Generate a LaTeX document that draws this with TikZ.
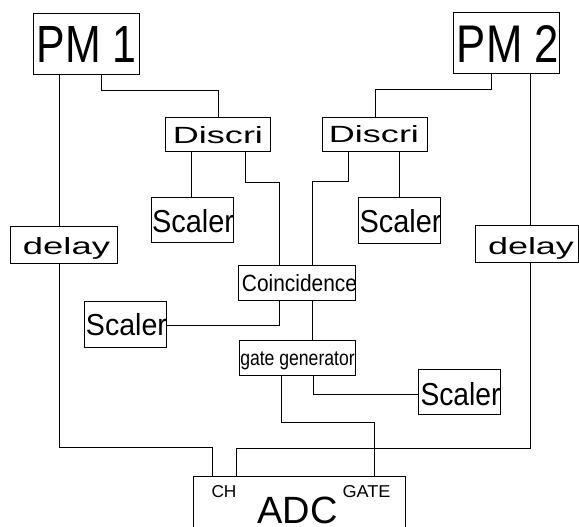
\documentclass[tikz,border=0pt]{standalone}
\usepackage{fontspec}
\setmainfont{Liberation Sans}
\usepackage{graphicx}
\begin{document}
\begin{tikzpicture}[x=1pt,y=-1pt,
  blk/.style={draw, rectangle, inner sep=0pt, line width=0.9pt},
  lbl/.style={inner sep=0pt, anchor=base},
  wire/.style={line width=0.8pt}]
\useasboundingbox (0,0) rectangle (579,527);
% boxes
\node[blk, minimum width=106pt, minimum height=61pt] (pm1) at (86,43.5) {};
\node[blk, minimum width=106pt, minimum height=61pt] (pm2) at (506,42.5) {};
\node[blk, minimum width=105pt, minimum height=34pt] (d1) at (217.5,134) {};
\node[blk, minimum width=105pt, minimum height=34pt] (d2) at (374.5,134) {};
\node[blk, minimum width=82pt, minimum height=45pt] (s1) at (192,219.5) {};
\node[blk, minimum width=82pt, minimum height=46pt] (s2) at (399,220) {};
\node[blk, minimum width=107pt, minimum height=37pt] (dl1) at (63.5,244.5) {};
\node[blk, minimum width=103pt, minimum height=37pt] (dl2) at (526.5,243.5) {};
\node[blk, minimum width=117pt, minimum height=35pt] (coin) at (296.5,282.5) {};
\node[blk, minimum width=82pt, minimum height=46pt] (s3) at (125,324) {};
\node[blk, minimum width=116pt, minimum height=35pt] (gg) at (297,357.5) {};
\node[blk, minimum width=82pt, minimum height=45pt] (s4) at (459,391.5) {};
\node[blk, minimum width=212pt, minimum height=84pt] (adc) at (299,518) {};
% labels
\node[lbl] (pm1t) at (86.5,63) {\resizebox{100pt}{36pt}{PM 1}};
\node[lbl] (pm2t) at (508,63) {\resizebox{102pt}{37pt}{PM 2}};
\node[lbl] (d1t) at (218,143) {\resizebox{90pt}{17pt}{Discri}};
\node[lbl] (d2t) at (374,142.5) {\resizebox{90pt}{17pt}{Discri}};
\node[lbl] (s1t) at (193,232) {\resizebox{82pt}{23pt}{Scaler}};
\node[lbl] (s2t) at (400.5,232) {\resizebox{82pt}{23pt}{Scaler}};
\node[lbl] (s3t) at (126.5,335) {\resizebox{81pt}{22pt}{Scaler}};
\node[lbl] (s4t) at (460.5,405) {\resizebox{80pt}{23pt}{Scaler}};
\node[lbl] (dl1t) at (66.5,254) {\resizebox{87pt}{17pt}{delay}};
\node[lbl] (dl2t) at (531,254) {\resizebox{86pt}{17pt}{delay}};
\node[lbl] (coint) at (299.5,291) {\resizebox{115pt}{17pt}{Coincidence}};
\node[lbl] (ggt) at (297.5,365) {\scalebox{0.83}[1]{\fontsize{21.2pt}{22pt}\selectfont gate generator}};
\node[lbl] (cht) at (224,497) {\resizebox{25pt}{12pt}{CH}};
\node[lbl] (gatet) at (366.5,497) {\resizebox{48pt}{12pt}{GATE}};
\node[lbl] (adct) at (297.5,523.5) {\fontsize{38pt}{38pt}\selectfont ADC};
% wires
\draw[wire] ([xshift=-27pt]pm1.south) -- ([xshift=-27pt]pm1.south |- dl1.north);
\draw[wire] ([xshift=15pt]pm1.south) -- ++(0,16) -| ([xshift=0.5pt]d1.north);
\draw[wire] ([xshift=-15pt]pm2.south) -- ++(0,16) -| ([xshift=0.5pt]d2.north);
\draw[wire] ([xshift=24pt]pm2.south) -- ([xshift=24pt]pm2.south |- dl2.north);
\draw[wire] ([xshift=-26.5pt]d1.south) -- ([xshift=-26.5pt]d1.south |- s1.north);
\draw[wire] ([xshift=27.5pt]d1.south) -- ++(0,31) -| ([xshift=-17.5pt]coin.north);
\draw[wire] ([xshift=-26.5pt]d2.south) -- ++(0,30) -| ([xshift=15.5pt]coin.north);
\draw[wire] ([xshift=24.5pt]d2.south) -- ([xshift=24.5pt]d2.south |- s2.north);
\draw[wire] ([xshift=-17.5pt]coin.south) |- ([yshift=-1pt]s3.east);
\draw[wire] ([xshift=15.5pt]coin.south) -- ([xshift=15.5pt]coin.south |- gg.north);
\draw[wire] ([xshift=16pt]gg.south) |- ([yshift=-2.5pt]s4.west);
\draw[wire] ([xshift=-16pt]gg.south) -- ++(0,47) -| ([xshift=75pt]adc.north);
\draw[wire] ([xshift=-4.5pt]dl1.south) -- ++(0,184) -| ([xshift=-87pt]adc.north);
\draw[wire] ([xshift=3.5pt]dl2.south) -- ++(0,186) -| ([xshift=-63pt]adc.north);
\end{tikzpicture}
\end{document}
